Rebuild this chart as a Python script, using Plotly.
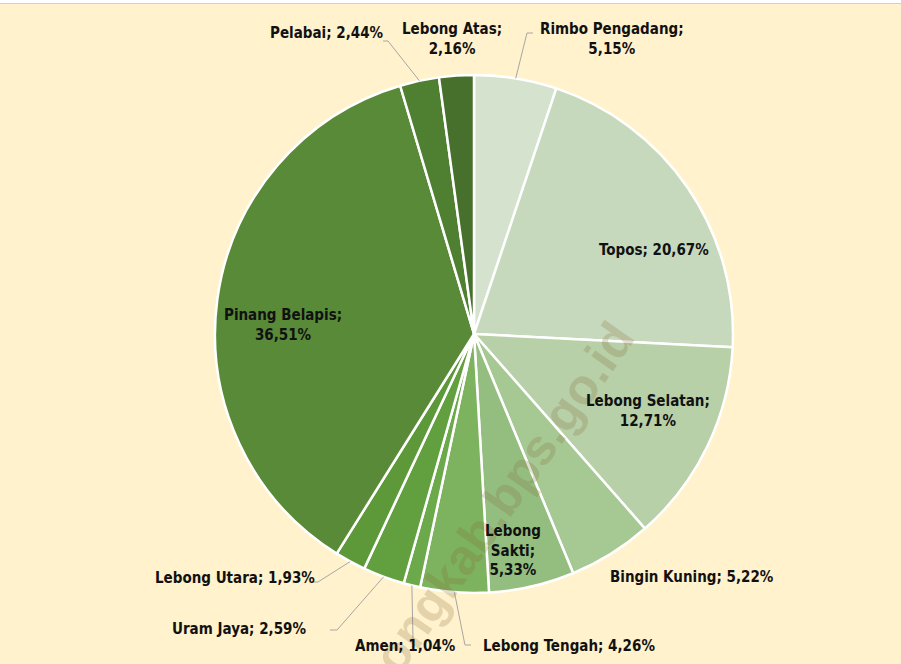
import math
import plotly.graph_objects as go

# ---- data ----
districts = ["Rimbo Pengadang", "Topos", "Lebong Selatan", "Bingin Kuning", "Lebong Sakti",
             "Lebong Tengah", "Amen", "Uram Jaya", "Lebong Utara", "Pinang Belapis",
             "Pelabai", "Lebong Atas"]
shares = [5.15, 20.67, 12.71, 5.22, 5.33, 4.26, 1.04, 2.59, 1.93, 36.51, 2.44, 2.16]

# ---- style ----
colors = ["#D5E3CE", "#C6D9BC", "#B7D0A8", "#A6C893", "#94BE80", "#7DB35E",
          "#6BA94B", "#62A03F", "#5D9839", "#588A38", "#4F7F31", "#47702C"]

W, H = 901, 664
CX, CY, R = 474, 334, 259

# label placement (pixel centre, line breaks, leader elbow & end)
label_style = {
    "Rimbo Pengadang": dict(pos=(612, 39), brk=True, leader=[(527, 33), (533, 33)]),
    "Topos": dict(pos=(654, 250), brk=False, leader=None),
    "Lebong Selatan": dict(pos=(648, 411), brk=True, leader=None),
    "Bingin Kuning": dict(pos=(692, 577), brk=False, leader=None),
    "Lebong Sakti": dict(pos=(513, 550), brk="three", leader=None),
    "Lebong Tengah": dict(pos=(569, 646), brk=False, leader=[(465, 645), (471, 645)]),
    "Amen": dict(pos=(405, 646), brk=False, leader=[(413, 640)]),
    "Uram Jaya": dict(pos=(239, 629), brk=False, leader=[(337, 630), (330, 630)]),
    "Lebong Utara": dict(pos=(235, 578), brk=False, leader=[(318, 582), (312, 582)]),
    "Pinang Belapis": dict(pos=(283, 325), brk=True, leader=None),
    "Pelabai": dict(pos=(327, 33), brk=False, leader=[(388, 41), (383, 41)]),
    "Lebong Atas": dict(pos=(452, 39), brk=True, leader=None),
}

FONT = "Liberation Sans Narrow, DejaVu Sans Condensed, Arial Narrow, sans-serif"

def px_to_paper(x, y):
    return x / W, 1 - y / H

fig = go.Figure()
fig.add_trace(go.Pie(
    labels=districts, values=shares, sort=False, direction="clockwise", rotation=0,
    marker=dict(colors=colors, line=dict(color="white", width=2.5)),
    textinfo="none", hoverinfo="label+percent", showlegend=False,
    domain=dict(x=[(CX - R) / W, (CX + R) / W], y=[(H - CY - R) / H, (H - CY + R) / H]),
))

annotations = []
shapes = []

# watermark (drawn first so labels sit on top)
wx, wy = px_to_paper(483, 527)
annotations.append(dict(x=wx, y=wy, xref="paper", yref="paper",
                        text="<b>lebongkab.bps.go.id</b>", showarrow=False, textangle=-55,
                        xanchor="center", yanchor="middle",
                        font=dict(family="Liberation Sans, Arial, sans-serif", size=50,
                                  color="rgba(130,100,50,0.22)")))

total = sum(shares)
cum = 0.0
for name, val in zip(districts, shares):
    mid = (cum + val / 2) / total * 2 * math.pi
    cum += val
    st = label_style[name]
    pct = f"{val:.2f}".replace(".", ",") + "%"
    if st["brk"] == "three":
        parts = name.split(" ")
        txt = f"{parts[0]}<br>{parts[1]};<br>{pct}"
    elif st["brk"]:
        txt = f"{name};<br>{pct}"
    else:
        txt = f"{name}; {pct}"
    x, y = px_to_paper(*st["pos"])
    annotations.append(dict(x=x, y=y, xref="paper", yref="paper", text="<b>" + txt + "</b>",
                            showarrow=False, xanchor="center", yanchor="middle",
                            font=dict(family=FONT, size=15, color="#111111")))
    if st["leader"]:
        ex = CX + R * math.sin(mid)
        ey = CY - R * math.cos(mid)
        pts = [(ex, ey)] + st["leader"]
        path = "M " + " L ".join(f"{px / W:.5f},{1 - py / H:.5f}" for px, py in pts)
        shapes.append(dict(type="path", path=path, xref="paper", yref="paper",
                           line=dict(color="#A6A6A6", width=1)))

# white strip and thin top border
shapes.append(dict(type="rect", xref="paper", yref="paper", x0=0, x1=1, y0=1 - 3 / H, y1=1,
                   fillcolor="white", line=dict(width=0), layer="above"))
shapes.append(dict(type="line", xref="paper", yref="paper", x0=0, x1=1,
                   y0=1 - 3.5 / H, y1=1 - 3.5 / H, line=dict(color="#D0D0D0", width=1)))

fig.update_layout(width=W, height=H, margin=dict(l=0, r=0, t=0, b=0),
                  paper_bgcolor="#FFF2CC", plot_bgcolor="#FFF2CC",
                  annotations=annotations, shapes=shapes)

fig.write_html("out.html", config={"displayModeBar": False},
               post_script="document.body.style.margin='0';document.body.style.overflow='hidden';")
